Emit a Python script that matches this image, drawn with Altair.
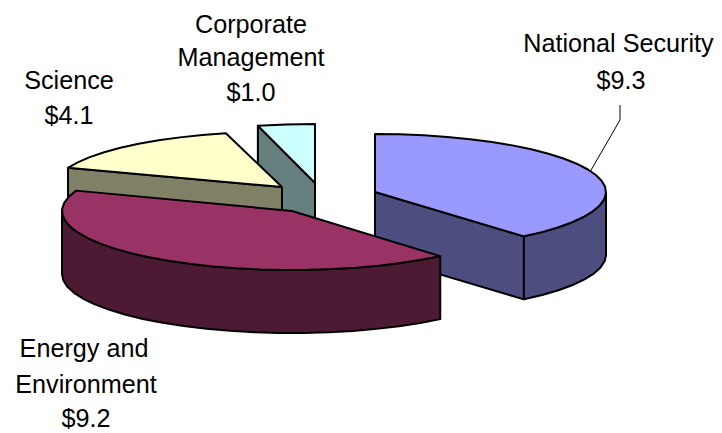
import math
import altair as alt
import pandas as pd

# Data
categories = ["National Security", "Energy and Environment", "Science", "Corporate Management"]
values = [9.3, 9.2, 4.1, 1.0]

# Chart look
top_colors = ["#9999FF", "#993366", "#FFFFCC", "#CCFFFF"]
side_colors = ["#4D4D80", "#4D1A33", "#808066", "#668080"]
apex_x = [375, 292, 282, 315]
apex_y = [192, 211, 187, 183]
radius_x = [231, 230, 228, 232]
radius_y = [58, 59, 55.5, 59]
perspective_shift = [0, -2, 8, 1, 0]
depth = 63
draw_order = [3, 2, 0, 1]
arc_step = 6

label_text = ["Corporate", "Management", "$1.0", "Science", "$4.1", "National Security", "$9.3",
              "Energy and", "Environment", "$9.2"]
label_x = [251, 251, 251, 69, 69, 618.5, 621, 84, 86, 86]
label_y = [25, 58, 93, 81, 116, 44, 81, 349, 385, 419]
leader_x = [590, 620, 620]
leader_y = [172, 120, 105]

X = alt.X("x:Q", scale=alt.Scale(domain=[8, 714]), axis=None)
Y = alt.Y("y:Q", scale=alt.Scale(domain=[425, 8]), axis=None)

total = sum(values)
bounds = [0.0]
for v in values:
    bounds.append(bounds[-1] + v / total * 360)
bounds = [b + s for b, s in zip(bounds, perspective_shift)]


def rim(i, a1, a2, drop=0.0):
    n = max(1, int(abs(a2 - a1) // arc_step))
    pts = []
    for k in range(n + 1):
        a = math.radians(a1 + (a2 - a1) * k / n)
        pts.append((apex_x[i] + radius_x[i] * math.sin(a),
                    apex_y[i] - radius_y[i] * math.cos(a) + drop))
    return pts


def polygon(points, fill):
    closed = list(points) + [points[0]]
    df = pd.DataFrame({"x": [p[0] for p in closed], "y": [p[1] for p in closed],
                       "o": range(len(closed))})
    return alt.Chart(df).mark_line(fill=fill, stroke="black", strokeWidth=2,
                                   strokeJoin="round").encode(x=X, y=Y, order="o:Q")


layers = []
for i in draw_order:
    a1, a2 = bounds[i], bounds[i + 1]
    apex = (apex_x[i], apex_y[i])
    apex_low = (apex_x[i], apex_y[i] + depth)
    # radial face at the start edge when it faces the viewer
    if 180 < a1 < 360:
        p = rim(i, a1, a1)[0]
        layers.append(polygon([apex, p, (p[0], p[1] + depth), apex_low], side_colors[i]))
    # radial face at the end edge when it faces the viewer
    if 0 < a2 < 180:
        p = rim(i, a2, a2)[0]
        layers.append(polygon([apex, p, (p[0], p[1] + depth), apex_low], side_colors[i]))
    # outer wall, front half only
    lo, hi = max(a1, 90), min(a2, 270)
    if lo < hi:
        layers.append(polygon(rim(i, lo, hi) + rim(i, hi, lo, depth), side_colors[i]))
    # top
    layers.append(polygon([apex] + rim(i, a1, a2), top_colors[i]))

leader = alt.Chart(pd.DataFrame({"x": leader_x, "y": leader_y, "o": range(len(leader_x))})).mark_line(
    color="black", strokeWidth=1).encode(x=X, y=Y, order="o:Q")

labels = alt.Chart(pd.DataFrame({"x": label_x, "y": label_y, "t": label_text})).mark_text(
    font="Liberation Sans", fontSize=25.2, align="center", baseline="middle", color="black"
).encode(x=X, y=Y, text="t:N")

chart = alt.layer(*layers, leader, labels).properties(
    width=706, height=417, padding=0, background="white"
).configure_view(stroke=None)

chart.save("out.html", embed_options={"renderer": "svg", "actions": False})
